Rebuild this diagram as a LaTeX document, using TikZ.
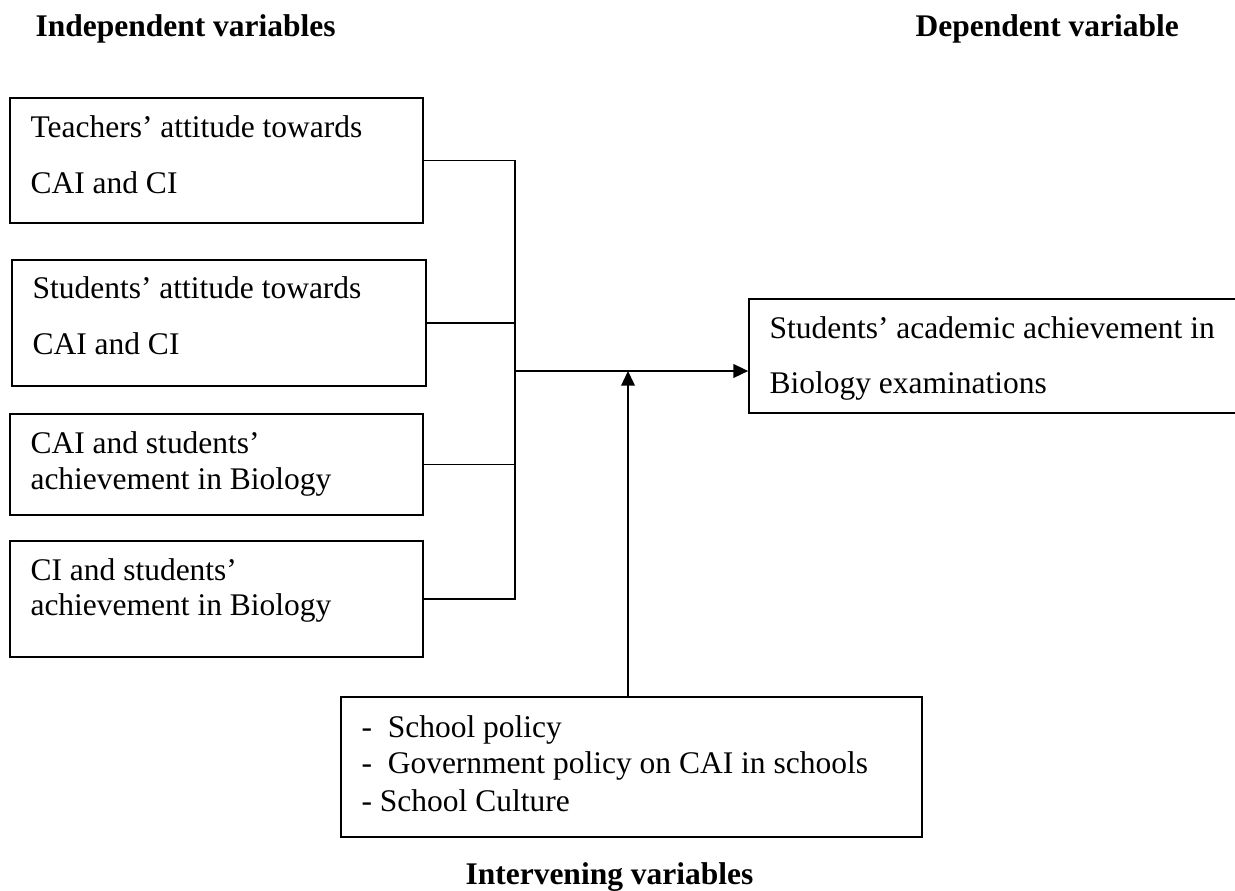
\documentclass[tikz,border=0pt]{standalone}
\usepackage{fontspec}
\setmainfont{Liberation Serif}
\usetikzlibrary{fit,arrows.meta}
\begin{document}
\begin{tikzpicture}[x=0.381pt,y=-0.381pt,
  box/.style={draw,line width=0.65pt,rectangle,inner sep=0pt},
  txt/.style={anchor=base west,inner sep=0pt,font=\fontsize{12}{14}\selectfont},
  ttl/.style={anchor=base west,inner sep=0pt,font=\fontsize{12}{14}\selectfont\bfseries},
  conn/.style={line width=0.65pt},
  arr/.style={line width=0.65pt,-{Triangle[length=5.6pt,width=5.2pt]}}]
\useasboundingbox (0,0) rectangle (1235,890);
\clip (0,0) rectangle (1235,890);
% titles
\node[ttl] (tind) at (35,36) {Independent variables};
\node[ttl] (tdep) at (915,36) {Dependent variable};
\node[ttl] (tint) at (465,884) {Intervening variables};
% independent boxes
\node[box,fit={(10,98) (423,223)}] (b1) {};
\node[txt] (b1a) at (30,137) {Teachers’ attitude towards};
\node[txt] (b1b) at (30,193) {CAI and CI};
\node[box,fit={(12,260) (426,386)}] (b2) {};
\node[txt] (b2a) at (32,298) {Students’ attitude towards};
\node[txt] (b2b) at (32,354) {CAI and CI};
\node[box,fit={(10,414) (423,515)}] (b3) {};
\node[txt] (b3a) at (30,453) {CAI and students’};
\node[txt] (b3b) at (30,489) {achievement in Biology};
\node[box,fit={(10,541) (423,657)}] (b4) {};
\node[txt] (b4a) at (30,580) {CI and students’};
\node[txt] (b4b) at (30,615) {achievement in Biology};
% dependent box
\node[box,fit={(749,299) (1250,413)}] (b5) {};
\node[txt] (b5a) at (769,338) {Students’ academic achievement in};
\node[txt] (b5b) at (769,393) {Biology examinations};
% intervening box
\node[box,fit={(341,697) (922,837)}] (b6) {};
\node[txt] (b6a) at (361,737) {-\ \ School policy};
\node[txt] (b6b) at (361,773) {-\ \ Government policy on CAI in schools};
\node[txt] (b6c) at (361,811) {- School Culture};
% connectors
\coordinate (j) at (515,371);
\coordinate (m) at (628,371);
\draw[conn] (b1.east) -- (b1.east -| j) -- (b4.east -| j) -- (b4.east);
\draw[conn] (b2.east) -- (b2.east -| j);
\draw[conn] (b3.east) -- (b3.east -| j);
\draw[arr] (j) -- (b5.west |- j);
\draw[arr] (b6.north -| m) -- (m);
\end{tikzpicture}
\end{document}
